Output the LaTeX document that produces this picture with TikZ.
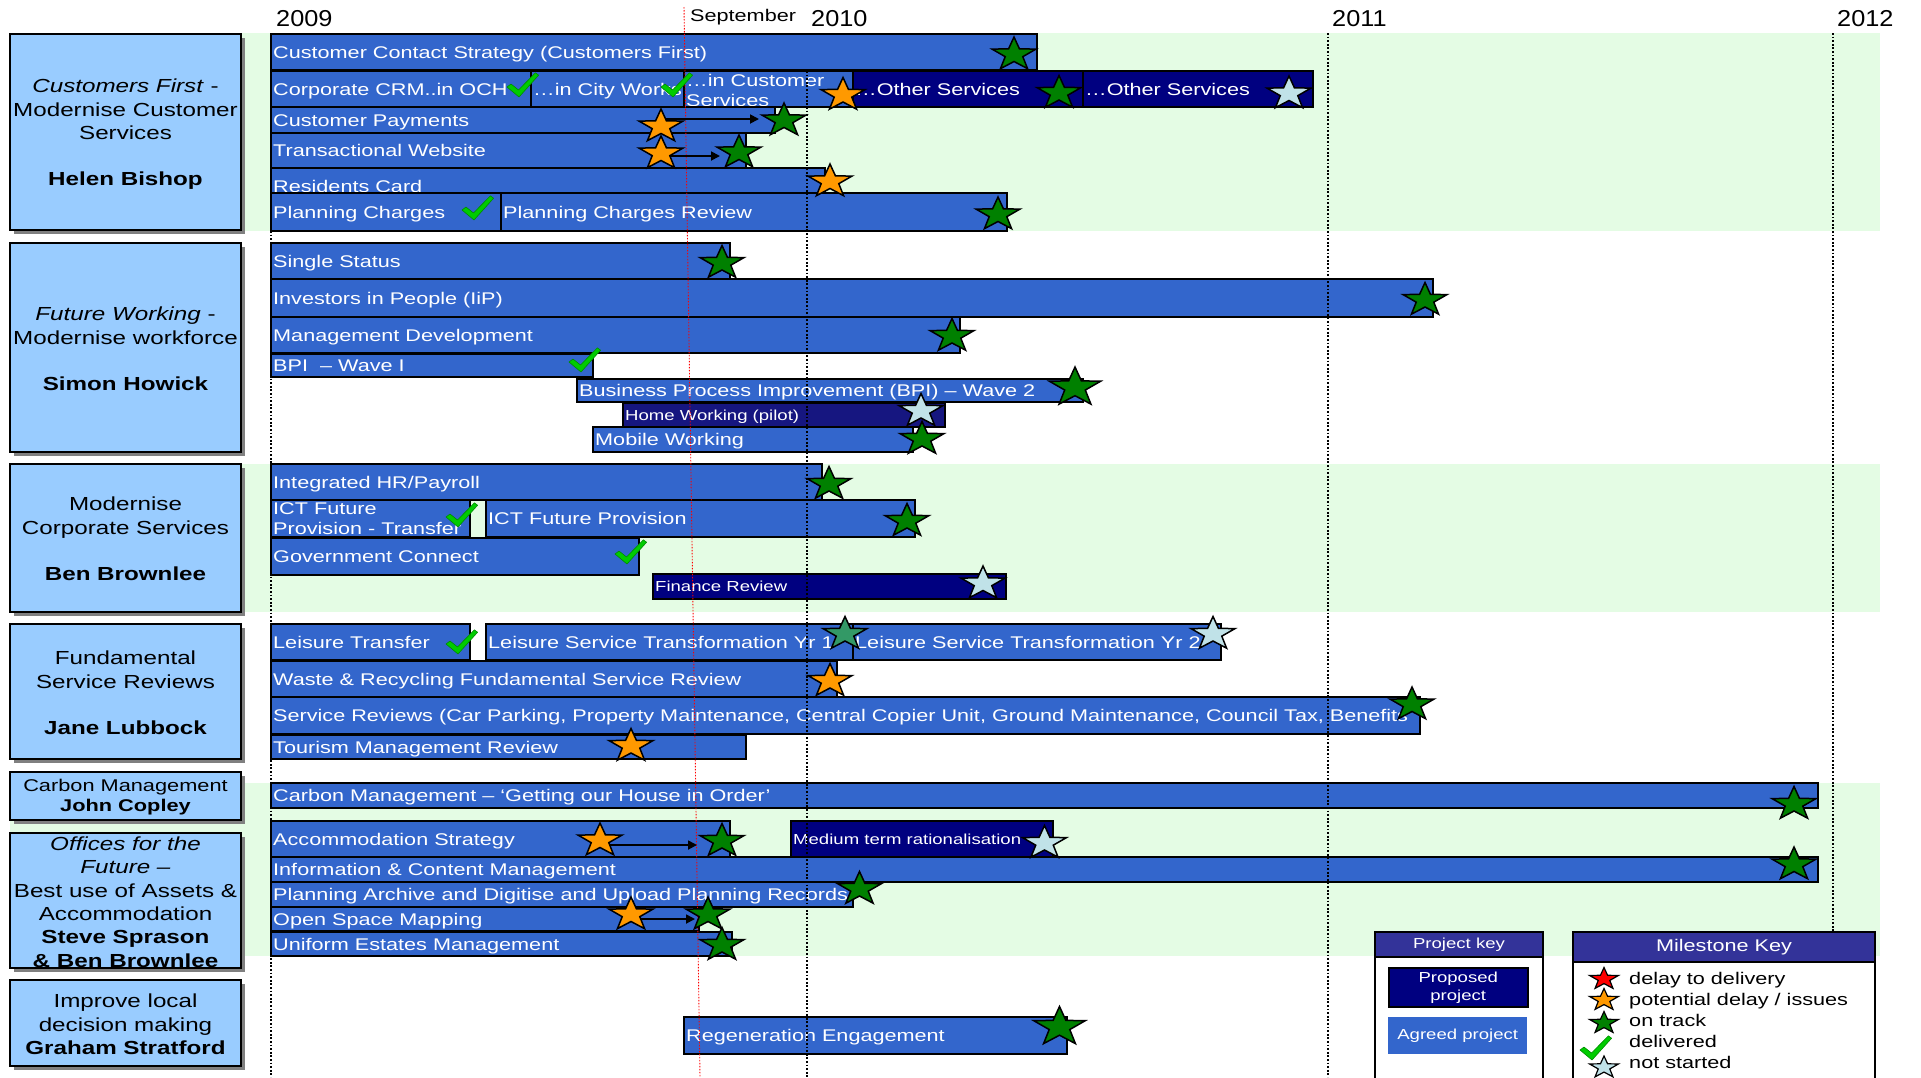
\documentclass[tikz,border=0pt]{standalone}
\usepackage{fontspec}
\setmainfont{Liberation Sans}[FakeStretch=1.28]
\newfontfamily\yrfont{Liberation Sans}[FakeStretch=1.1]
\usetikzlibrary{shapes.geometric,arrows.meta,shadows}
\definecolor{band}{RGB}{228,252,228}
\definecolor{boxblue}{RGB}{153,204,255}
\definecolor{barblue}{RGB}{51,102,204}
\definecolor{navyp}{RGB}{0,0,128}
\definecolor{navyh}{RGB}{22,22,128}
\definecolor{hdr}{RGB}{51,51,153}
\definecolor{sgreen}{RGB}{0,128,0}
\definecolor{sorange}{RGB}{255,153,0}
\definecolor{slblue}{RGB}{192,226,232}
\definecolor{sseag}{RGB}{51,153,102}
\definecolor{sred}{RGB}{255,0,0}
\definecolor{tickg}{RGB}{0,204,0}
\definecolor{tickd}{RGB}{0,140,0}
\definecolor{shadowgray}{RGB}{128,128,128}
\tikzset{
  lbox/.style={draw=black, line width=2.2pt, fill=boxblue, minimum width=231pt, inner sep=1pt,
    drop shadow={fill=shadowgray, opacity=1, shadow xshift=4pt, shadow yshift=-4pt}},
  ltext/.style={inner sep=0pt, align=center, font=\fontsize{18.9}{23.3}\selectfont},
  barbox/.style={draw=black, line width=1.6pt, fill=barblue, inner sep=0pt, outer sep=0pt},
  bartext/.style={text=white, font=\fontsize{16.9}{20}\selectfont, inner sep=0pt, anchor=west,
    text height=12.1pt, text depth=0pt},
  smalltext/.style={font=\fontsize{14.5}{17}\selectfont, text height=10.4pt},
  twoline/.style={align=left, text height={}, text depth={}},
  proposed/.style={fill=navyp},
  mstar/.style={star, star points=5, star point ratio=2.5, minimum size=35pt, inner sep=0pt,
    draw=black, line width=1.5pt, xscale=1.32},
  arr/.style={draw=black, line width=1.8pt, -{Triangle[length=9pt,width=9pt]}},
  yrline/.style={draw=black, line width=1.8pt, dash pattern=on 1.8pt off 1.8pt},
  sepline/.style={draw=red, line width=0.9pt, dash pattern=on 1.5pt off 1.5pt},
  yrlab/.style={font=\yrfont\fontsize{23}{26}\selectfont, inner sep=0pt, anchor=west, text height=16.5pt, text depth=0pt},
  keytext/.style={font=\fontsize{16.9}{21}\selectfont, inner sep=0pt, anchor=west, text height=12.1pt, text depth=0pt},
  tick/.pic={\filldraw[fill=tickg, draw=tickd, line width=0.6pt, line join=round]
    (-16,2) -- (-12,-1) -- (-4.5,5) -- (12.4,-12.2) -- (15.6,-9.8) -- (-4,12) -- cycle;}
}
\newcommand\gbar[8]{%
  \node[barbox,#1,minimum width={#6-#4},minimum height={#7-#5},anchor=north west] (#3) at (#4,#5) {};
  \node[bartext,#2] (#3t) at ([xshift=2pt]#3.west) {#8};}
% star: name, x, y (y of bounding-box centre; the shape centre lies 3.5 lower)
\newcommand\mstar[5][]{\node[mstar,fill=#5,#1] (#2) at (#3,#4+3.5) {};}
\begin{document}
\begin{tikzpicture}[x=1pt,y=-1pt]
\useasboundingbox (0,0) rectangle (1921,1077);
\clip (0,0) rectangle (1921,1077);
\fill[white] (0,0) rectangle (1921,1077);
% green bands
\fill[band] (10,33) rectangle (1880,231);
\fill[band] (10,464) rectangle (1880,612);
\fill[band] (10,783) rectangle (1880,956);
% year labels
\node[yrlab] (y2009) at (276,18.5) {2009};
\node[yrlab] (y2010) at (811,18.5) {2010};
\node[yrlab] (y2011) at (1332,18.5) {2011};
\node[yrlab] (y2012) at (1837,18.5) {2012};
\node[keytext] (sept) at (690,15.3) {September};
% left boxes
\node[lbox, minimum height=196pt] (L1) at (125.5,132) {};
\node[ltext] (L1t) at ([yshift=-2.5pt]L1.center) {\textit{Customers First} -\\Modernise Customer\\Services\\[23pt]\textbf{Helen Bishop}};
\node[lbox, minimum height=209pt] (L2) at (125.5,347.5) {};
\node[ltext] (L2t) at ([yshift=-1.5pt]L2.center) {\textit{Future Working} -\\Modernise workforce\\[23pt]\textbf{Simon Howick}};
\node[lbox, minimum height=148pt] (L3) at (125.5,538) {};
\node[ltext] (L3t) at ([yshift=-1pt]L3.center) {Modernise\\Corporate Services\\[23pt]\textbf{Ben Brownlee}};
\node[lbox, minimum height=135pt] (L4) at (125.5,691.5) {};
\node[ltext] (L4t) at ([yshift=-1.5pt]L4.center) {Fundamental\\Service Reviews\\[23pt]\textbf{Jane Lubbock}};
\node[lbox, minimum height=48pt] (L5) at (125.5,796) {};
\node[ltext, font=\fontsize{17}{20}\selectfont] (L5t) at ([yshift=-1.5pt]L5.center) {Carbon Management\\\textbf{John Copley}};
\node[lbox, minimum height=135pt] (L6) at (125.5,900.5) {};
\node[ltext] (L6t) at ([yshift=-1.5pt]L6.center) {\textit{Offices for the}\\\textit{Future –}\\Best use of Assets \&\\Accommodation\\\textbf{Steve Sprason}\\\textbf{\& Ben Brownlee}};
\node[lbox, minimum height=86pt] (L7) at (125.5,1023) {};
\node[ltext] (L7t) at ([yshift=-1.5pt]L7.center) {Improve local\\decision making\\\textbf{Graham Stratford}};
% group 1 bars
\gbar{}{}{b11}{271}{34}{1037}{70}{Customer Contact Strategy (Customers First)}
\gbar{}{}{b12a}{271}{71}{531}{107}{Corporate CRM..in OCH}
\gbar{}{}{b12b}{531}{71}{684}{107}{…in City Works}
\gbar{}{twoline,yshift=-1pt}{b12c}{684}{71}{853}{107}{…in Customer\\Services}
\gbar{proposed}{}{b12d}{853}{71}{1083}{107}{…Other Services}
\gbar{proposed}{}{b12e}{1083}{71}{1313}{107}{…Other Services}
\gbar{}{}{b13}{271}{107}{775}{133}{Customer Payments}
\gbar{}{}{b14}{271}{133}{746}{168}{Transactional Website}
\gbar{}{yshift=-5.5pt}{b15}{271}{168}{825}{193}{Residents Card}
\gbar{}{}{b16a}{271}{193}{501}{231}{Planning Charges}
\gbar{}{}{b16b}{501}{193}{1007}{231}{Planning Charges Review}
% group 2 bars
\gbar{}{}{b21}{271}{243}{730}{279}{Single Status}
\gbar{}{}{b22}{271}{279}{1433}{317}{Investors in People (IiP)}
\gbar{}{}{b23}{271}{317}{960}{353}{Management Development}
\gbar{}{}{b24}{271}{354}{593}{377}{BPI~~– Wave I}
\gbar{}{}{b25}{577}{379}{1083}{402}{Business Process Improvement (BPI) – Wave 2}
\gbar{fill=navyh}{smalltext}{b26}{623}{403}{945}{427}{Home Working (pilot)}
\gbar{}{}{b27}{593}{427}{913}{452}{Mobile Working}
% group 3 bars
\gbar{}{}{b31}{271}{464}{822}{500}{Integrated HR/Payroll}
\gbar{}{twoline}{b32a}{271}{500}{470}{537}{ICT Future\\Provision - Transfer}
\gbar{}{}{b32b}{486}{500}{915}{537}{ICT Future Provision}
\gbar{}{}{b33}{271}{538}{639}{575}{Government Connect}
\gbar{proposed}{smalltext}{b34}{653}{574}{1006}{599}{Finance Review}
% group 4 bars
\gbar{}{}{b41a}{271}{624}{470}{660}{Leisure Transfer}
\gbar{}{}{b41b}{486}{624}{853}{660}{Leisure Service Transformation Yr 1}
\gbar{}{}{b41c}{853}{624}{1221}{660}{Leisure Service Transformation Yr 2}
\gbar{}{}{b42}{271}{661}{837}{697}{Waste \& Recycling Fundamental Service Review}
\gbar{}{}{b43}{271}{697}{1420}{734}{Service Reviews (Car Parking, Property Maintenance, Central Copier Unit, Ground Maintenance, Council Tax, Benefits}
\gbar{}{}{b44}{271}{735}{746}{759}{Tourism Management Review}
% group 5
\gbar{}{}{b51}{271}{783}{1818}{808}{Carbon Management – ‘Getting our House in Order’}
% group 6
\gbar{}{}{b61}{271}{821}{730}{857}{Accommodation Strategy}
\gbar{proposed}{smalltext}{b61m}{791}{821}{1053}{857}{Medium term rationalisation}
\gbar{}{}{b62}{271}{857}{1818}{882}{Information \& Content Management}
\gbar{}{}{b63}{271}{882}{853}{907}{Planning Archive and Digitise and Upload Planning Records}
\gbar{}{}{b64}{271}{907}{699}{931}{Open Space Mapping}
\gbar{}{}{b65}{271}{932}{732}{956}{Uniform Estates Management}
% group 7
\gbar{}{}{b71}{684}{1017}{1067}{1054}{Regeneration Engagement}
% timeline lines
\coordinate (l09a) at (271,33); \coordinate (l09b) at (271,1077);
\coordinate (l10a) at (807,71); \coordinate (l10b) at (807,1077);
\coordinate (l11a) at (1328,33); \coordinate (l11b) at (1328,1077);
\coordinate (l12a) at (1833,33); \coordinate (l12b) at (1833,1077);
\coordinate (lsa) at (684,7); \coordinate (lsb) at (700,1077);
\draw[yrline] (l09a) -- (l09b);
\draw[yrline] (l10a) -- (l10b);
\draw[yrline] (l11a) -- (l11b);
\draw[yrline] (l12a) -- (l12b);
\draw[sepline] (lsa) -- (lsb);
% arrow end points (star centres)
\path (661,123) coordinate (s13oc) (784,117) coordinate (s13gc)
      (661,150) coordinate (s14oc) (739,149) coordinate (s14gc)
      (600,837) coordinate (s61oc) (722,837.5) coordinate (s61gc)
      (631,911) coordinate (s64oc) (708,911) coordinate (s64gc);
\draw[arr] ([yshift=4pt]s13oc) -- ([xshift=-25pt,yshift=-2pt]s13gc);
\draw[arr] ([yshift=-6pt]s14oc) -- ([xshift=-19pt,yshift=-7pt]s14gc);
\draw[arr] ([yshift=-8pt]s61oc) -- ([xshift=-25pt,yshift=-7.5pt]s61gc);
\draw[arr] ([yshift=-8pt]s64oc) -- ([xshift=-13pt,yshift=-8pt]s64gc);
% ticks
\pic (t12a) at (523,85) {tick};
\pic (t12b) at (677,85) {tick};
\pic (t16) at (478,208) {tick};
\pic (t24) at (585,360) {tick};
\pic (t32) at (462,515) {tick};
\pic (t33) at (631,552) {tick};
\pic (t41) at (462,642) {tick};
% stars
\mstar{s11}{1014}{51}{sgreen}
\mstar{s12a}{843}{91.5}{sorange}
\mstar{s12b}{1059}{89.5}{sgreen}
\mstar{s12c}{1289}{90}{slblue}
\mstar{s13o}{661}{123}{sorange}
\mstar{s13g}{784}{117}{sgreen}
\mstar{s14o}{661}{150}{sorange}
\mstar{s14g}{739}{149}{sgreen}
\mstar{s15}{830}{178}{sorange}
\mstar{s16}{998}{211}{sgreen}
\mstar{s21}{722}{259.5}{sgreen}
\mstar{s22}{1425}{296.5}{sgreen}
\mstar{s23}{952}{332.5}{sgreen}
\mstar[minimum size=41pt]{s25}{1075}{384}{sgreen}
\mstar{s26}{921}{407.5}{slblue}
\mstar{s27}{922}{435.5}{sgreen}
\mstar{s31}{829}{480.5}{sgreen}
\mstar{s32}{907}{517.5}{sgreen}
\mstar{s34}{983}{580}{slblue}
\mstar{s41a}{845}{630.5}{sseag}
\mstar{s41b}{1213}{630.5}{slblue}
\mstar{s42}{830}{677.5}{sorange}
\mstar{s43}{1412}{701}{sgreen}
\mstar{s44}{631}{742.5}{sorange}
\mstar{s51}{1794}{800.5}{sgreen}
\mstar{s61o}{600}{837}{sorange}
\mstar{s61g}{722}{837.5}{sgreen}
\mstar{s61m}{1044.5}{839.5}{slblue}
\mstar{s62}{1794}{861}{sgreen}
\mstar{s63}{859.5}{885.5}{sgreen}
\mstar{s64o}{631}{911}{sorange}
\mstar{s64g}{708}{911}{sgreen}
\mstar{s65}{722}{941.5}{sgreen}
\mstar[minimum size=41pt]{s71}{1059.5}{1023.5}{sgreen}
% project key
\node[draw=black, line width=2pt, fill=white, minimum width=168pt, minimum height=160pt, anchor=north west] (pk) at (1374,931) {};
\node[draw=black, line width=2pt, fill=hdr, minimum width=168pt, minimum height=25pt, anchor=north west, text=white, font=\fontsize{14.5}{17}\selectfont] (pkh) at (1374,931) {Project key};
\node[draw=black, line width=1.5pt, fill=navyp, minimum width=139pt, minimum height=39pt, anchor=north west, align=center, text=white, inner sep=0pt, font=\fontsize{14.5}{18}\selectfont] (pp) at (1388,967) {Proposed\\project};
\node[fill=barblue, minimum width=139pt, minimum height=37pt, anchor=north west, text=white, inner sep=0pt, font=\fontsize{14.5}{17}\selectfont] (ap) at (1388,1017) {Agreed project};
% milestone key
\node[draw=black, line width=2pt, fill=white, minimum width=302pt, minimum height=160pt, anchor=north west] (mk) at (1572,931) {};
\node[draw=black, line width=2pt, fill=hdr, minimum width=302pt, minimum height=30pt, anchor=north west, text=white, font=\fontsize{16.9}{20}\selectfont] (mkh) at (1572,931) {Milestone Key};
\mstar[minimum size=23pt, line width=1.2pt]{k1}{1604}{975.5}{sred}
\mstar[minimum size=23pt, line width=1.2pt]{k2}{1604}{996.5}{sorange}
\mstar[minimum size=23pt, line width=1.2pt]{k3}{1604}{1019.5}{sgreen}
\pic (k4) at (1596,1048) {tick};
\mstar[minimum size=23pt, line width=1.2pt]{k5}{1604}{1064}{slblue}
\node[keytext] (kt1) at (1629,978) {delay to delivery};
\node[keytext] (kt2) at (1629,999) {potential delay / issues};
\node[keytext] (kt3) at (1629,1020) {on track};
\node[keytext] (kt4) at (1629,1041) {delivered};
\node[keytext] (kt5) at (1629,1062) {not started};
\end{tikzpicture}
\end{document}
